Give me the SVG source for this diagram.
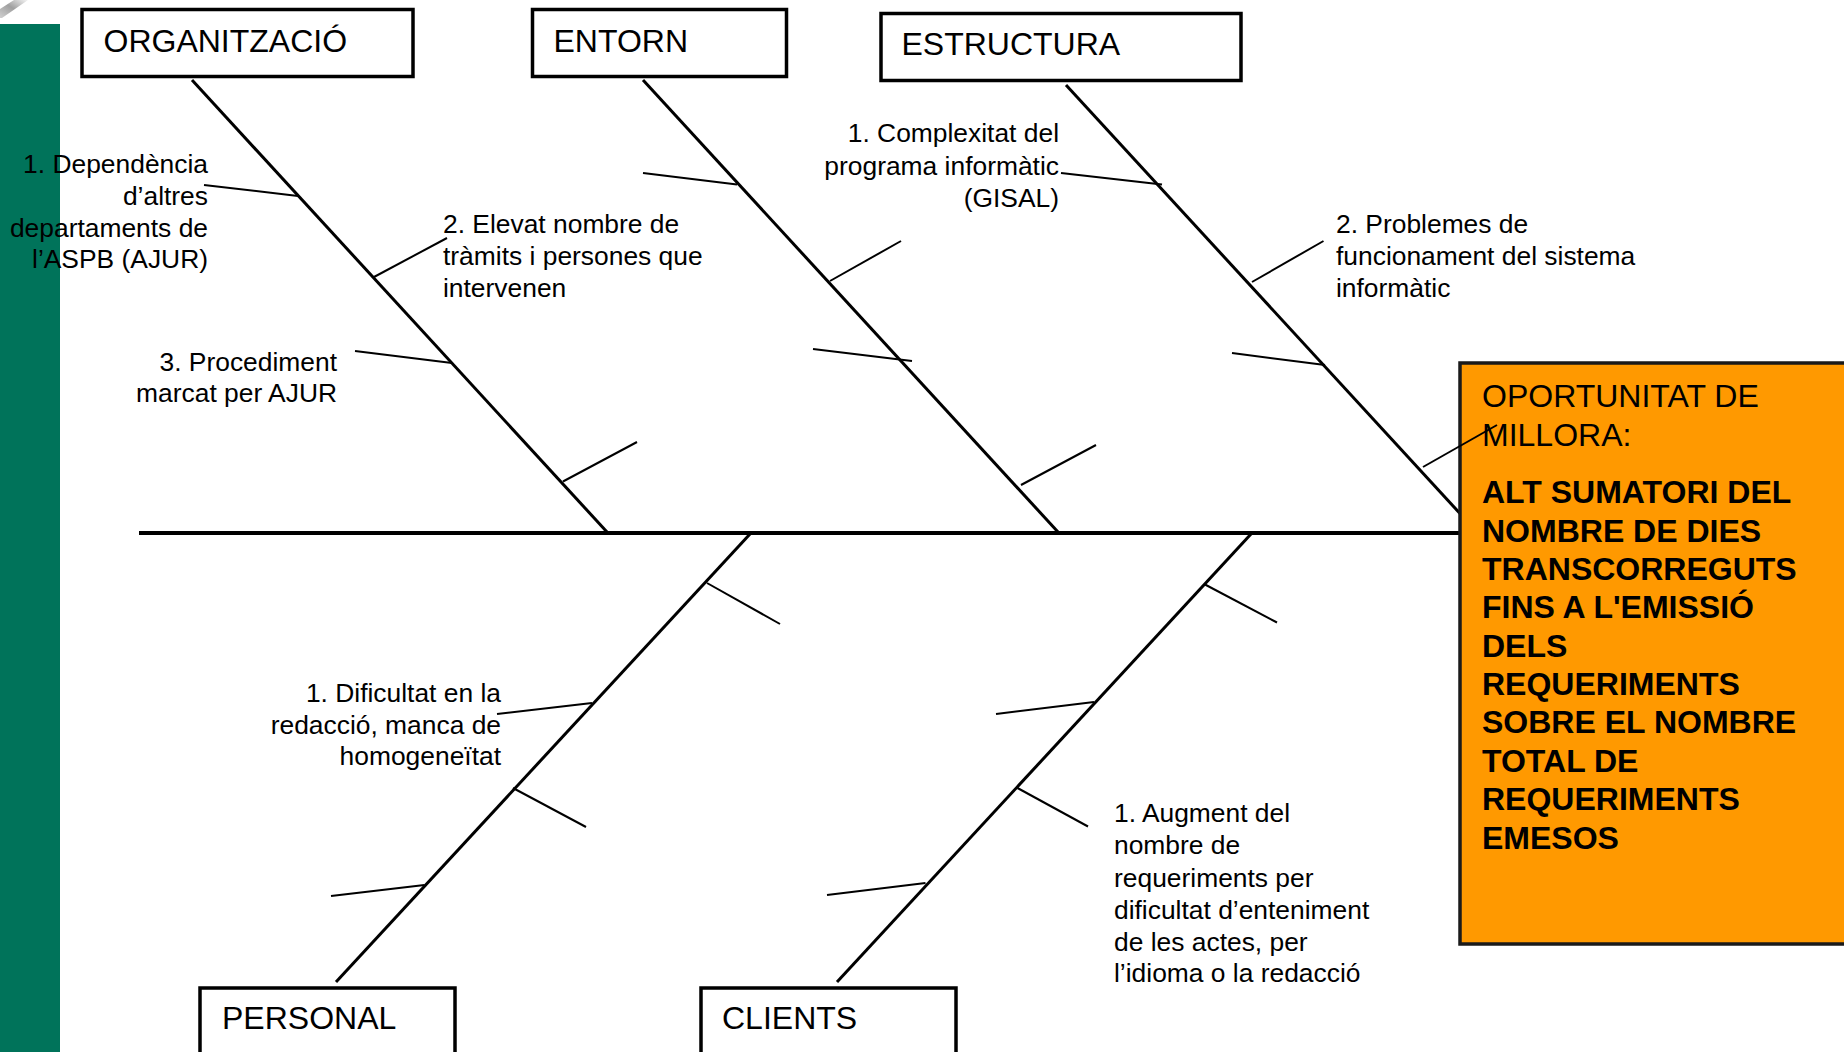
<svg xmlns="http://www.w3.org/2000/svg" width="1844" height="1052" viewBox="0 0 1844 1052">
<defs>
<linearGradient id="sh" x1="0" y1="1" x2="1" y2="0">
<stop offset="0" stop-color="#bbbbbb"/>
<stop offset="0.5" stop-color="#777777"/>
<stop offset="1" stop-color="#eeeeee"/>
</linearGradient>
</defs>
<style>
text{font-family:"Liberation Sans",Arial,sans-serif;fill:#000}
.cat{font-size:32px}
.lbl{font-size:26.4px}
.r{text-anchor:end}
.box{fill:#fff;stroke:#000;stroke-width:3.5}
.spine{stroke:#000;stroke-width:4;fill:none}
.bone{stroke:#000;stroke-width:3;fill:none}
.sub{stroke:#000;stroke-width:2;fill:none}
.eff{font-size:32px}
.effb{font-size:32px;font-weight:bold}
</style>
<rect x="0" y="0" width="1844" height="1052" fill="#fff"/>
<rect x="0" y="24" width="60" height="1028" fill="#00735A"/>
<polygon points="0,9 14,0 28,0 2,18 0,18" fill="url(#sh)" opacity="0.7"/>

<g id="connectors">
<line class="spine" x1="139" y1="533" x2="1460" y2="533"/>
<line class="bone" x1="192" y1="80" x2="607" y2="532"/>
<line class="bone" x1="643" y1="80" x2="1058" y2="532"/>
<line class="bone" x1="1066" y1="85" x2="1477" y2="532"/>
<line class="bone" x1="750" y1="534" x2="336" y2="982"/>
<line class="bone" x1="1251" y1="534" x2="837" y2="982"/>
<line class="sub" x1="204" y1="185" x2="298" y2="196"/>
<line class="sub" x1="374" y1="277" x2="447" y2="238"/>
<line class="sub" x1="355" y1="351" x2="452" y2="363"/>
<line class="sub" x1="563" y1="481.5" x2="637" y2="442"/>
<line class="sub" x1="643" y1="173" x2="737" y2="184.5"/>
<line class="sub" x1="830" y1="281" x2="901" y2="241"/>
<line class="sub" x1="813" y1="349" x2="912" y2="361"/>
<line class="sub" x1="1021" y1="485" x2="1096" y2="445"/>
<line class="sub" x1="1061" y1="173" x2="1162" y2="184.5"/>
<line class="sub" x1="1252" y1="282" x2="1323.5" y2="241"/>
<line class="sub" x1="1232" y1="353" x2="1325" y2="365"/>
<line class="sub" x1="707" y1="583" x2="780" y2="624"/>
<line class="sub" x1="497" y1="714" x2="592" y2="703"/>
<line class="sub" x1="513" y1="788" x2="586" y2="827"/>
<line class="sub" x1="331" y1="896" x2="424.5" y2="885"/>
<line class="sub" x1="1205" y1="584.5" x2="1277" y2="622.5"/>
<line class="sub" x1="996" y1="714" x2="1094" y2="702"/>
<line class="sub" x1="1017.5" y1="788" x2="1088" y2="826.5"/>
<line class="sub" x1="827" y1="895" x2="925.5" y2="883"/>
</g>

<g id="organitzacio">
<rect class="box" x="82" y="9.5" width="331" height="67"/>
<text class="cat" x="103.5" y="52">ORGANITZACIÓ</text>
</g>
<g id="entorn">
<rect class="box" x="532.5" y="9.5" width="254" height="67"/>
<text class="cat" x="553.5" y="52">ENTORN</text>
</g>
<g id="estructura">
<rect class="box" x="881" y="13.5" width="360" height="67"/>
<text class="cat" x="901.5" y="55">ESTRUCTURA</text>
</g>
<g id="personal">
<rect class="box" x="200" y="988" width="255" height="100"/>
<text class="cat" x="222" y="1029">PERSONAL</text>
</g>
<g id="clients">
<rect class="box" x="701" y="988" width="255" height="100"/>
<text class="cat" x="722" y="1029">CLIENTS</text>
</g>

<g id="efecte">
<rect x="1460" y="363" width="420" height="581" fill="#FF9900" stroke="#1a1a1a" stroke-width="3.5"/>
<text class="eff" x="1482" y="407">OPORTUNITAT DE</text>
<text class="eff" x="1482" y="446">MILLORA:</text>
<text class="effb" x="1482" y="503">ALT SUMATORI DEL</text>
<text class="effb" x="1482" y="541.5">NOMBRE DE DIES</text>
<text class="effb" x="1482" y="580">TRANSCORREGUTS</text>
<text class="effb" x="1482" y="618">FINS A L'EMISSIÓ</text>
<text class="effb" x="1482" y="657">DELS</text>
<text class="effb" x="1482" y="695">REQUERIMENTS</text>
<text class="effb" x="1482" y="733">SOBRE EL NOMBRE</text>
<text class="effb" x="1482" y="772">TOTAL DE</text>
<text class="effb" x="1482" y="810">REQUERIMENTS</text>
<text class="effb" x="1482" y="849">EMESOS</text>
</g>
<line class="sub" x1="1423" y1="467" x2="1497" y2="425"/>

<g id="causa-org-1">
<text class="lbl r" x="208" y="173">1. Dependència</text>
<text class="lbl r" x="208" y="205">d’altres</text>
<text class="lbl r" x="208" y="237">departaments de</text>
<text class="lbl r" x="208" y="268">l’ASPB (AJUR)</text>
</g>
<g id="causa-org-2">
<text class="lbl" x="443" y="233">2. Elevat nombre de</text>
<text class="lbl" x="443" y="265">tràmits i persones que</text>
<text class="lbl" x="443" y="297">intervenen</text>
</g>
<g id="causa-org-3">
<text class="lbl r" x="337" y="371">3. Procediment</text>
<text class="lbl r" x="337" y="402">marcat per AJUR</text>
</g>
<g id="causa-est-1">
<text class="lbl r" x="1059" y="142">1. Complexitat del</text>
<text class="lbl r" x="1059" y="175">programa informàtic</text>
<text class="lbl r" x="1059" y="207">(GISAL)</text>
</g>
<g id="causa-est-2">
<text class="lbl" x="1336" y="233">2. Problemes de</text>
<text class="lbl" x="1336" y="265">funcionament del sistema</text>
<text class="lbl" x="1336" y="297">informàtic</text>
</g>
<g id="causa-per-1">
<text class="lbl r" x="501" y="702">1. Dificultat en la</text>
<text class="lbl r" x="501" y="734">redacció, manca de</text>
<text class="lbl r" x="501" y="765">homogeneïtat</text>
</g>
<g id="causa-cli-1">
<text class="lbl" x="1114" y="822">1. Augment del</text>
<text class="lbl" x="1114" y="854">nombre de</text>
<text class="lbl" x="1114" y="886.5">requeriments per</text>
<text class="lbl" x="1114" y="919">dificultat d’enteniment</text>
<text class="lbl" x="1114" y="951">de les actes, per</text>
<text class="lbl" x="1114" y="982">l’idioma o la redacció</text>
</g>
</svg>
